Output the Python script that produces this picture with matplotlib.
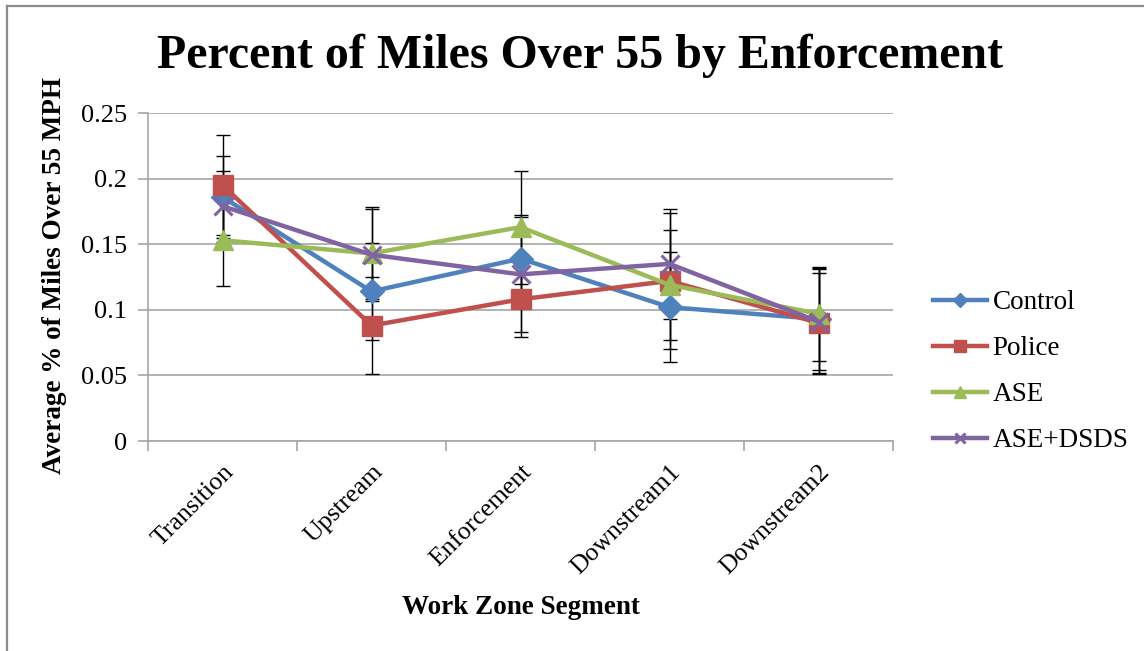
import matplotlib.pyplot as plt
from matplotlib.lines import Line2D

# segments along the work zone
segments = ['Transition', 'Upstream', 'Enforcement', 'Downstream1', 'Downstream2']

# average share of miles over 55 mph
control = [0.186, 0.114, 0.139, 0.102, 0.093]
police = [0.195, 0.088, 0.108, 0.122, 0.090]
ase = [0.153, 0.143, 0.163, 0.119, 0.097]
ase_dsds = [0.179, 0.142, 0.127, 0.135, 0.091]

# error bar half-widths
control_err = [0.031, 0.037, 0.033, 0.042, 0.039]
police_err = [0.038, 0.037, 0.029, 0.052, 0.038]
ase_err = [0.035, 0.035, 0.043, 0.042, 0.036]
ase_dsds_err = [0.027, 0.035, 0.044, 0.042, 0.040]

plt.rcParams['font.family'] = ['Liberation Serif', 'DejaVu Serif']

fig = plt.figure(figsize=(11.44, 6.51), dpi=100)

# chart border: only the top and left edges show in the original
W, H = 1144, 651
fig.add_artist(Line2D([7 / W, 7 / W], [0, 1 - 6 / H], transform=fig.transFigure,
                      color='#8c8c8c', linewidth=1.6))
fig.add_artist(Line2D([7 / W, 1], [1 - 6 / H, 1 - 6 / H], transform=fig.transFigure,
                      color='#8c8c8c', linewidth=1.6))

ax = fig.add_axes([148 / W, 1 - 441 / H, 745 / W, 328 / H])

series = [
    ('Control', control, control_err, '#4F81BD', 'D', 12, 1),
    ('Police', police, police_err, '#C0504D', 's', 14, 1),
    ('ASE', ase, ase_err, '#9BBB59', '^', 14, 1),
    ('ASE+DSDS', ase_dsds, ase_dsds_err, '#8064A2', 'x', 13, 2.2),
]

x = list(range(len(segments)))
handles = []
for name, vals, errs, color, marker, ms, mew in series:
    ax.errorbar(x, vals, yerr=errs, fmt='none', ecolor='black', elinewidth=1,
                capsize=5, capthick=1, zorder=2)
    line, = ax.plot(x, vals, color=color, linewidth=3.2, marker=marker,
                    markersize=ms, markeredgewidth=mew, markeredgecolor=color,
                    zorder=3, label=name)
    handles.append(line)

ax.set_xlim(-0.5, len(segments) - 0.5)
ax.set_ylim(0, 0.25)
ax.set_yticks([0, 0.05, 0.1, 0.15, 0.2, 0.25])
ax.set_yticklabels(['0', '0.05', '0.1', '0.15', '0.2', '0.25'], fontsize=19)
ax.grid(axis='y', color='#a6a6a6', linewidth=1.2, zorder=0)
ax.set_axisbelow(True)

# category labels at centres, tick marks at band boundaries (Excel style)
ax.set_xticks(x)
ax.set_xticklabels(segments, rotation=45, ha='right', rotation_mode='anchor', fontsize=18.5)
ax.tick_params(axis='x', length=0, pad=14)
ax.set_xticks([i - 0.5 for i in range(len(segments) + 1)], minor=True)
ax.tick_params(axis='x', which='minor', length=7, color='#a6a6a6', width=1.2)
ax.tick_params(axis='y', length=7, color='#a6a6a6', width=1.2, pad=8)

for side in ['top', 'right']:
    ax.spines[side].set_visible(False)
for side in ['left', 'bottom']:
    ax.spines[side].set_color('#a6a6a6')
    ax.spines[side].set_linewidth(1.2)

fig.text(580 / W, 1 - 56 / H, 'Percent of Miles Over 55 by Enforcement',
         ha='center', va='center', fontsize=34.5, fontweight='bold')
fig.text(521 / W, 1 - 607 / H, 'Work Zone Segment', ha='center', va='center',
         fontsize=19.5, fontweight='bold')
fig.text(55 / W, 1 - 276 / H, 'Average % of Miles Over 55 MPH', ha='center', va='center',
         rotation=90, fontsize=19.5, fontweight='bold')

leg = fig.legend(handles=handles, loc='upper left', bbox_to_anchor=(933 / W, 1 - 290 / H),
                 frameon=False, fontsize=19.5, handlelength=2.0, handletextpad=0.2,
                 labelspacing=0.78, markerscale=0.6, borderaxespad=0, borderpad=0)

fig.savefig('out.png', dpi=100)
